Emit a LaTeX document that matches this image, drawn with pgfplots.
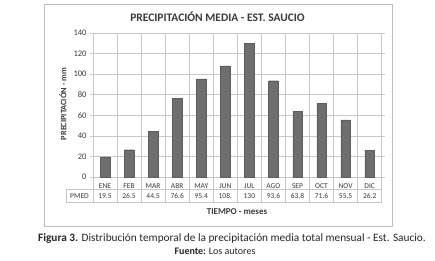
\documentclass[border=0pt]{standalone}
\usepackage{pgfplots}
\pgfplotsset{compat=1.18}
\usepackage{fontspec}
\setmainfont{Carlito}
\definecolor{barc}{HTML}{6E6E6E}
\definecolor{grd}{HTML}{C8C8C8}
\definecolor{txt}{HTML}{3A3A3A}
\definecolor{boxc}{HTML}{BDBDBD}
\begin{document}
\begin{tikzpicture}
\path[use as bounding box] (0,0) rectangle (435pt,260pt);
\draw[boxc, line width=0.8pt] (44pt,34pt) rectangle (392.5pt,256pt);
\begin{axis}[
  at={(93pt,83pt)}, anchor=south west, scale only axis,
  width=288.7pt, height=144pt,
  xmin=-0.5, xmax=11.5, ymin=0, ymax=140,
  ytick={0,20,...,140},
  xtick={0,...,11},
  xticklabels={ENE,FEB,MAR,ABR,MAY,JUN,JUL,AGO,SEP,OCT,NOV,DIC},
  xtick style={draw=none},
  minor xtick={-0.5,0.5,...,11.5},
  xminorgrids, ymajorgrids,
  grid style={grd, line width=0.6pt},
  minor grid style={grd, line width=0.6pt},
  axis line style={grd, line width=0.6pt},
  ytick style={grd, line width=0.6pt},
  tick align=outside, major tick length=3pt,
  /pgf/number format/assume math mode=true,
  ticklabel style={font=\fontsize{7.5}{8}\selectfont, text=txt},
  yticklabel style={anchor=east, font=\fontsize{8.5}{9}\selectfont},
  xticklabel style={anchor=center, yshift=-6.3pt},
  clip=false,
]
\addplot[ybar, bar width=9.5pt, fill=barc, draw=barc!85!black] coordinates {
(0,19.5) (1,26.5) (2,44.5) (3,76.6) (4,95.4) (5,108) (6,130) (7,93.6) (8,63.8) (9,71.6) (10,55.5) (11,26.2)};
\end{axis}
% data table grid
\draw[grd, line width=0.6pt] (66pt,71pt) -- (381.7pt,71pt);
\draw[grd, line width=0.6pt] (66pt,57.7pt) -- (381.7pt,57.7pt);
\draw[grd, line width=0.6pt] (66pt,71pt) -- (66pt,57.7pt);
\foreach \k in {0,...,12} {
  \draw[grd, line width=0.6pt] ({93pt+24.058pt*\k},83pt) -- ({93pt+24.058pt*\k},57.7pt);
}
\node[font=\fontsize{7.5}{8}\selectfont, text=txt] at (79.5pt,64.3pt) {PMED};
\foreach \v [count=\i from 0] in {19.5,26.5,44.5,76.6,95.4,108.,130,93.6,63.8,71.6,55.5,26.2} {
  \node[font=\fontsize{7.5}{8}\selectfont, text=txt] at ({93pt+24.058pt*(\i+0.5)},64.3pt) {\v};
}
\node[font=\bfseries\fontsize{11.5}{13}\selectfont, text=txt] at (217.5pt,243.3pt) {PRECIPITACIÓN MEDIA - EST. SAUCIO};
\node[rotate=90, font=\bfseries\fontsize{8.3}{9}\selectfont, text=txt] at (63pt,156pt) {PRECIPITACIÓN - mm};
\node[font=\bfseries\fontsize{9}{10}\selectfont, text=txt] at (237pt,48.3pt) {TIEMPO - meses};
\node[font=\fontsize{11.3}{13}\selectfont, text=black!85] at (232pt,21.5pt) {\textbf{Figura 3.} Distribución temporal de la precipitación media total mensual - Est. Saucio.};
\node[font=\fontsize{10}{11}\selectfont, text=black!85] at (215pt,8.3pt) {\textbf{Fuente:} Los autores};
\end{tikzpicture}
\end{document}
